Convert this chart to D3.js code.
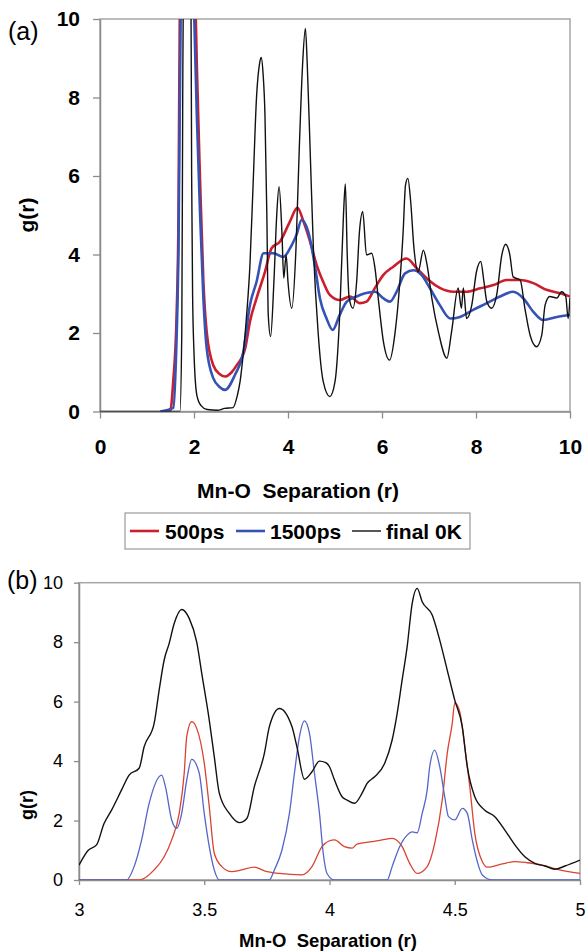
<!DOCTYPE html>
<html><head><meta charset="utf-8">
<script src="https://cdn.jsdelivr.net/npm/d3@7"></script>
<style>body{margin:0;background:#fff;} svg{display:block;font-family:"Liberation Sans",Arial,sans-serif;} text{white-space:pre;}</style>
</head><body>
<svg id="c" width="587" height="952"></svg>
<script>
// ---------- data ----------
const seriesNames = ["500ps", "1500ps", "final 0K"];
const topXTicks = [0, 2, 4, 6, 8, 10];
const topYTicks = [0, 2, 4, 6, 8, 10];
const botXTicks = [3, 3.5, 4, 4.5, 5];
const botYTicks = [0, 2, 4, 6, 8, 10];

const top500 = [[1.3,0],[1.49,0],[1.56,0.8],[1.63,2.46],[1.67,5],[1.70,10.5],[1.8,14],[1.95,14],[2.03,10.5],[2.06,8.83],[2.13,5.86],[2.2,3.3],[2.27,2.03],[2.41,1.18],[2.55,0.95],[2.66,0.89],[2.8,1.0],[2.91,1.18],[3.09,1.61],[3.19,2.29],[3.33,2.88],[3.51,3.56],[3.65,4.16],[3.83,4.33],[4.04,4.84],[4.2,5.19],[4.33,4.84],[4.47,4.33],[4.61,3.73],[4.75,3.3],[4.89,2.97],[5.1,2.84],[5.32,2.93],[5.53,2.76],[5.67,2.8],[5.85,3.15],[6.03,3.48],[6.24,3.69],[6.52,3.9],[6.74,3.65],[6.99,3.35],[7.23,3.15],[7.52,3.05],[7.8,3.05],[8.09,3.14],[8.37,3.22],[8.65,3.35],[8.94,3.35],[9.22,3.27],[9.5,3.1],[9.79,3.01],[10,2.93]];
const top1500 = [[1.28,0],[1.56,0.09],[1.62,1.5],[1.67,4.16],[1.72,10.5],[1.8,14],[1.92,14],[2.0,10.3],[2.06,7.55],[2.13,5.0],[2.2,2.88],[2.27,1.61],[2.41,0.85],[2.55,0.62],[2.66,0.55],[2.87,0.93],[3.05,1.52],[3.19,2.71],[3.33,3.3],[3.48,4.03],[3.69,4.03],[3.9,3.94],[4.08,4.24],[4.18,4.5],[4.29,4.88],[4.43,4.58],[4.57,3.73],[4.68,2.88],[4.82,2.37],[4.95,2.08],[5.1,2.46],[5.25,2.8],[5.46,2.93],[5.64,3.01],[5.85,3.05],[6.03,2.88],[6.17,2.8],[6.31,3.05],[6.49,3.52],[6.67,3.6],[6.84,3.48],[7.02,3.14],[7.23,2.71],[7.45,2.37],[7.66,2.41],[7.94,2.59],[8.23,2.76],[8.51,2.93],[8.79,3.05],[9.01,2.88],[9.22,2.54],[9.43,2.33],[9.72,2.41],[10,2.46]];
const top0K = [[0,0],[1.70,0],[1.74,2],[1.76,8],[1.78,12],[1.85,14],[1.93,12],[1.95,6],[1.97,3],[2.0,1.5],[2.06,0.42],[2.15,0.15],[2.28,0.05],[2.5,0.03],[2.65,0.08],[2.83,0.1],[2.92,0.4],[2.98,0.76],[3.05,1.5],[3.12,2.46],[3.19,3.73],[3.26,5.86],[3.33,8.0],[3.4,8.9],[3.43,9.02],[3.47,8.6],[3.51,7.55],[3.55,5.0],[3.58,2.46],[3.63,1.91],[3.70,3.3],[3.76,5.0],[3.81,5.73],[3.87,4.58],[3.91,3.4],[3.96,3.99],[4.0,3.3],[4.08,2.63],[4.17,4.16],[4.24,6.7],[4.31,8.83],[4.37,9.76],[4.41,8.83],[4.47,6.7],[4.54,4.16],[4.64,2.03],[4.75,0.76],[4.89,0.38],[5.0,0.76],[5.1,2.46],[5.18,5.0],[5.22,5.8],[5.26,4.0],[5.3,2.9],[5.38,2.63],[5.46,3.3],[5.52,4.58],[5.59,5.09],[5.67,3.99],[5.78,4.03],[5.85,3.66],[5.92,2.89],[6.03,1.78],[6.16,1.31],[6.28,2.03],[6.38,3.3],[6.45,4.58],[6.50,5.77],[6.55,5.94],[6.61,5.35],[6.68,4.16],[6.77,3.56],[6.88,4.11],[6.96,3.73],[7.06,2.89],[7.2,2.03],[7.38,1.36],[7.48,2.03],[7.62,3.15],[7.69,2.63],[7.73,3.15],[7.8,2.37],[7.91,2.71],[8.01,3.56],[8.1,3.82],[8.17,3.3],[8.23,2.8],[8.33,2.63],[8.44,2.97],[8.55,3.99],[8.63,4.26],[8.72,3.99],[8.79,3.43],[8.94,3.35],[9.04,2.63],[9.15,1.95],[9.29,1.65],[9.40,1.95],[9.47,2.71],[9.57,2.93],[9.72,2.89],[9.82,3.05],[9.91,2.93],[9.96,2.37],[10,2.89]];

const bot500 = [[3,0],[3.24,0],[3.30,0.34],[3.34,0.78],[3.37,1.35],[3.40,2.24],[3.42,3.59],[3.43,4.82],[3.45,5.33],[3.47,5.1],[3.50,3.93],[3.52,2.47],[3.54,0.9],[3.57,0.45],[3.61,0.28],[3.65,0.34],[3.70,0.43],[3.74,0.31],[3.80,0.22],[3.89,0.17],[3.93,0.45],[3.97,1.12],[4.0,1.32],[4.02,1.35],[4.06,1.12],[4.09,1.07],[4.11,1.21],[4.17,1.29],[4.21,1.35],[4.25,1.4],[4.29,1.12],[4.32,0.56],[4.35,0.22],[4.39,0.45],[4.42,1.23],[4.45,2.69],[4.47,4.26],[4.49,5.27],[4.50,5.96],[4.52,5.66],[4.54,4.48],[4.56,3.14],[4.58,1.57],[4.61,0.62],[4.63,0.43],[4.69,0.54],[4.74,0.62],[4.79,0.58],[4.85,0.5],[4.91,0.36],[5.0,0.22]];
const bot1500 = [[3,0],[3.19,0],[3.22,0.45],[3.25,1.35],[3.28,2.58],[3.33,3.53],[3.345,3.14],[3.37,2.02],[3.39,1.74],[3.41,2.24],[3.43,3.36],[3.45,4.06],[3.48,3.59],[3.50,2.24],[3.52,1.12],[3.54,0.34],[3.56,0],[3.76,0],[3.78,0.34],[3.81,1.0],[3.84,2.24],[3.86,3.59],[3.88,4.82],[3.90,5.35],[3.92,4.93],[3.94,3.59],[3.96,2.24],[3.975,0.9],[3.99,0.22],[4.02,0],[4.23,0],[4.25,0.45],[4.28,1.12],[4.31,1.51],[4.33,1.62],[4.35,1.59],[4.37,2.24],[4.39,3.03],[4.40,3.81],[4.42,4.37],[4.44,3.81],[4.46,2.8],[4.475,2.13],[4.50,2.02],[4.53,2.41],[4.55,2.24],[4.57,1.35],[4.59,0.62],[4.61,0.17],[4.65,0],[5.0,0]];
const bot0K = [[3.0,0.5],[3.037,1.0],[3.07,1.18],[3.10,1.9],[3.13,2.35],[3.17,3.03],[3.2,3.53],[3.24,3.76],[3.26,4.48],[3.30,5.27],[3.32,6.39],[3.34,7.4],[3.36,7.96],[3.38,8.63],[3.41,9.1],[3.44,8.8],[3.47,8.0],[3.49,6.95],[3.52,5.38],[3.54,4.15],[3.56,2.92],[3.60,2.24],[3.64,1.93],[3.67,2.07],[3.70,3.14],[3.74,4.26],[3.76,5.16],[3.80,5.77],[3.85,5.16],[3.87,4.48],[3.90,3.39],[3.93,3.64],[3.96,4.0],[3.985,3.95],[4.0,3.81],[4.02,3.36],[4.05,2.8],[4.07,2.69],[4.10,2.58],[4.13,2.92],[4.15,3.25],[4.18,3.47],[4.22,3.92],[4.25,4.71],[4.27,5.6],[4.29,6.73],[4.31,7.85],[4.33,9.3],[4.35,9.81],[4.37,9.36],[4.41,8.91],[4.44,8.07],[4.47,7.06],[4.50,6.05],[4.53,5.16],[4.55,3.81],[4.58,2.8],[4.62,2.35],[4.66,2.13],[4.70,1.68],[4.74,1.18],[4.78,0.78],[4.82,0.56],[4.86,0.47],[4.90,0.36],[4.94,0.47],[5.0,0.67]];

// ---------- drawing ----------
const svg = d3.select("#c");
const font = '"Liberation Sans", Arial, sans-serif';

function panel(cfg) {
  const {x0, x1, y0, y1, xDom, yDom, xTicks, yTicks, series, fontSize, bold, tickLen, xPad, yPad, id} = cfg;
  const x = d3.scaleLinear().domain(xDom).range([x0, x1]);
  const y = d3.scaleLinear().domain(yDom).range([y1, y0]);
  const g = svg.append("g");
  g.append("clipPath").attr("id", id).append("rect")
    .attr("x", x0).attr("y", y0).attr("width", x1 - x0).attr("height", y1 - y0);
  g.append("rect").attr("x", x0).attr("y", y0).attr("width", x1 - x0).attr("height", y1 - y0)
    .attr("fill", "none").attr("stroke", "#a6a6a6").attr("stroke-width", 1.5);
  const fmt = d => String(d);
  const ax = g.append("g").attr("transform", `translate(0,${y1})`)
    .call(d3.axisBottom(x).tickValues(xTicks).tickFormat(fmt).tickSize(tickLen).tickPadding(xPad).tickSizeOuter(0));
  const ay = g.append("g").attr("transform", `translate(${x0},0)`)
    .call(d3.axisLeft(y).tickValues(yTicks).tickFormat(fmt).tickSize(tickLen).tickPadding(yPad).tickSizeOuter(0));
  [ax, ay].forEach(a => {
    a.select(".domain").attr("stroke", "#8c8c8c").attr("stroke-width", 1.5);
    a.selectAll(".tick line").attr("stroke", "#8c8c8c").attr("stroke-width", 1.3);
    a.selectAll("text").attr("fill", "#000").attr("font-family", font)
      .attr("font-size", fontSize).attr("font-weight", bold ? "bold" : "normal");
  });
  const line = d3.line().x(d => x(d[0])).y(d => y(d[1])).curve(d3.curveMonotoneX);
  const lg = g.append("g").attr("clip-path", `url(#${id})`);
  series.forEach(s => {
    lg.append("path").datum(s.data).attr("d", line)
      .attr("fill", "none").attr("stroke", s.color).attr("stroke-width", s.width)
      .attr("stroke-linejoin", "round");
  });
  return {x, y};
}

panel({
  id: "clipA", x0: 100, x1: 570, y0: 19, y1: 411.5, xDom: [0, 10], yDom: [0, 10],
  xTicks: topXTicks, yTicks: topYTicks, fontSize: 21, bold: true, tickLen: 7, xPad: 21, yPad: 13,
  series: [
    {data: top500, color: "#cc1f2e", width: 2.6},
    {data: top1500, color: "#3552b5", width: 2.6},
    {data: top0K, color: "#111", width: 1.4}
  ]
});

panel({
  id: "clipB", x0: 79, x1: 580, y0: 582.7, y1: 880, xDom: [3, 5], yDom: [0, 10],
  xTicks: botXTicks, yTicks: botYTicks, fontSize: 18, bold: false, tickLen: 5, xPad: 18, yPad: 11,
  series: [
    {data: bot500, color: "#d9432f", width: 1.3},
    {data: bot1500, color: "#5565c8", width: 1.3},
    {data: bot0K, color: "#111", width: 1.4}
  ]
});

// labels
svg.append("text").attr("x", 8).attr("y", 40).attr("font-size", 25).attr("font-family", font).text("(a)");
svg.append("text").attr("x", 7).attr("y", 589).attr("font-size", 25).attr("font-family", font).text("(b)");
svg.append("text").attr("transform", "translate(34,215) rotate(-90)").attr("text-anchor", "middle")
  .attr("font-size", 21).attr("font-weight", "bold").attr("font-family", font).text("g(r)");
svg.append("text").attr("transform", "translate(33,805) rotate(-90)").attr("text-anchor", "middle")
  .attr("font-size", 18).attr("font-weight", "bold").attr("font-family", font).text("g(r)");
svg.append("text").attr("x", 298).attr("y", 498).attr("text-anchor", "middle")
  .attr("font-size", 21).attr("font-weight", "bold").attr("font-family", font).text("Mn-O  Separation (r)");
svg.append("text").attr("x", 328).attr("y", 947).attr("text-anchor", "middle")
  .attr("font-size", 18.5).attr("font-weight", "bold").attr("font-family", font).text("Mn-O  Separation (r)");

// legend
const leg = svg.append("g");
leg.append("rect").attr("x", 125).attr("y", 513).attr("width", 345).attr("height", 36)
  .attr("fill", "#fff").attr("stroke", "#9a9a9a").attr("stroke-width", 1.2);
const legItems = [
  {name: seriesNames[0], color: "#cc1f2e", w: 2.6, lx: 130, tx: 165},
  {name: seriesNames[1], color: "#3552b5", w: 2.6, lx: 236, tx: 270},
  {name: seriesNames[2], color: "#111", w: 1.4, lx: 352, tx: 386}
];
legItems.forEach(it => {
  leg.append("line").attr("x1", it.lx).attr("x2", it.lx + 29).attr("y1", 531).attr("y2", 531)
    .attr("stroke", it.color).attr("stroke-width", it.w);
  leg.append("text").attr("x", it.tx).attr("y", 539).attr("font-size", 21).attr("font-weight", "bold")
    .attr("font-family", font).text(it.name);
});
</script>
</body></html>
